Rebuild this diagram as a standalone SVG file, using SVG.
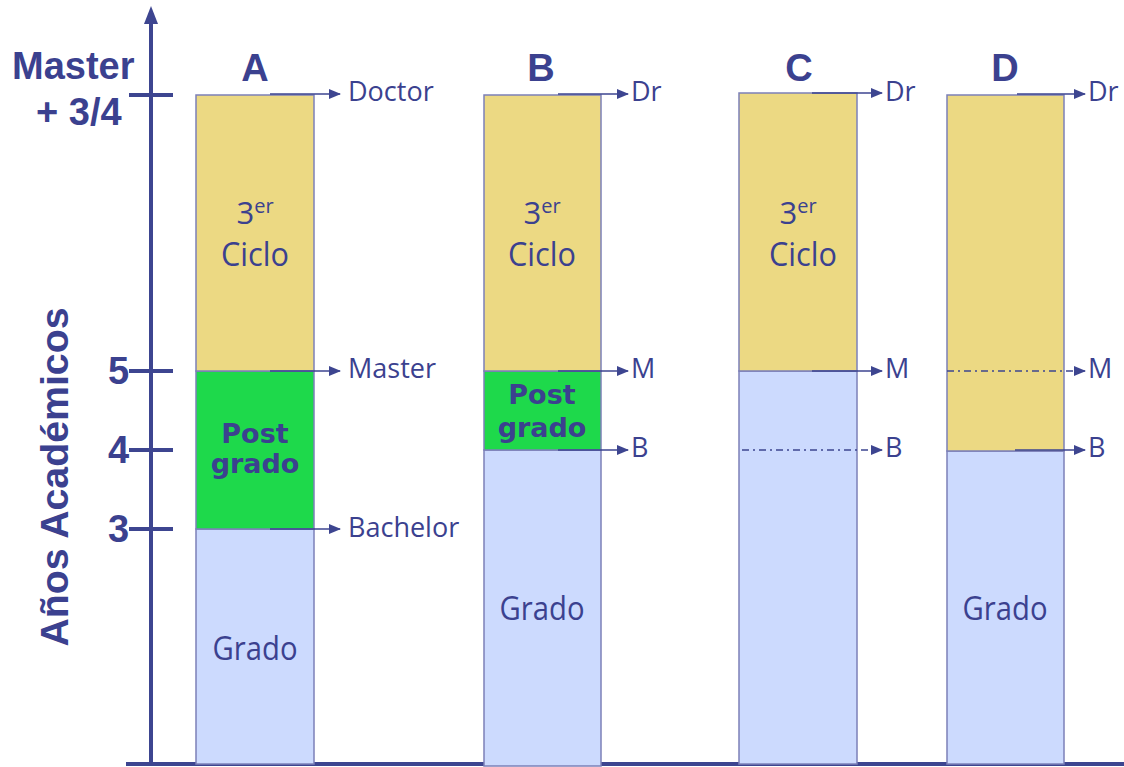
<svg xmlns="http://www.w3.org/2000/svg" width="1124" height="767" viewBox="0 0 1124 767">
<defs>
<marker id="ah" markerUnits="userSpaceOnUse" markerWidth="12" markerHeight="10" refX="11" refY="5" orient="auto">
<path d="M0,0 L12,5 L0,10 z" fill="#3d4590"/>
</marker>
<style>
.y{fill:#ecd983;stroke:#7c80b8;stroke-width:1.5}
.g{fill:#1ed94b;stroke:#7c80b8;stroke-width:1.5}
.b{fill:#ccdafe;stroke:#7c80b8;stroke-width:1.5}
.ax{stroke:#3d4590;stroke-width:4;fill:none}
.ar{stroke:#3d4590;stroke-width:1.6;fill:none;marker-end:url(#ah)}
.da{stroke-dasharray:7 4 2 4}
.lbl{font-family:"Open Sans",sans-serif;font-size:27px;fill:#3b418f}
.in{font-family:"Open Sans",sans-serif;font-size:33px;fill:#3b418f;text-anchor:middle}
.th{font-family:"Open Sans",sans-serif;font-size:31px;fill:#3b418f;text-anchor:middle}
.sup{font-size:20px}
.pg{font-family:"DejaVu Sans",sans-serif;font-weight:bold;font-size:27px;fill:#3b418f;text-anchor:middle}
.bd{font-family:"Liberation Sans",Arial,sans-serif;font-weight:bold;font-size:38px;fill:#3b418f}
.col{font-family:"Liberation Sans",Arial,sans-serif;font-weight:bold;font-size:38px;fill:#3b418f;text-anchor:middle}
</style>
</defs>
<rect width="1124" height="767" fill="#ffffff"/>

<g id="axis">
<line class="ax" x1="151" y1="766" x2="151" y2="20"/>
<polygon points="151,6 144,24 158,24" fill="#3d4590"/>
<line class="ax" x1="126" y1="764" x2="1124" y2="764"/>
<line class="ax" x1="129" y1="95" x2="173" y2="95"/>
<line class="ax" x1="129" y1="371" x2="173" y2="371"/>
<line class="ax" x1="129" y1="450" x2="173" y2="450"/>
<line class="ax" x1="129" y1="529" x2="173" y2="529"/>
<text class="bd" x="12" y="79">Master</text>
<text class="bd" x="36" y="125">+ 3/4</text>
<text class="bd" x="108" y="384">5</text>
<text class="bd" x="108" y="463">4</text>
<text class="bd" x="108" y="542">3</text>
<text transform="translate(68,477) rotate(-90)" font-family="Liberation Sans, Arial, sans-serif" font-weight="bold" font-size="39" fill="#3b418f" text-anchor="middle" textLength="339" lengthAdjust="spacingAndGlyphs">Años Académicos</text>
</g>

<g id="colA">
<rect class="b" x="196" y="529" width="118" height="235"/>
<rect class="g" x="196" y="371" width="118" height="158"/>
<rect class="y" x="196" y="95" width="118" height="276"/>
<text class="col" x="255" y="81">A</text>
<text class="th" x="255" y="224">3<tspan class="sup" dy="-11">er</tspan></text>
<text class="in" x="255" y="266" textLength="68" lengthAdjust="spacingAndGlyphs">Ciclo</text>
<text class="pg" x="255" y="443">Post</text>
<text class="pg" x="255" y="473">grado</text>
<text class="in" x="255" y="660" textLength="85" lengthAdjust="spacingAndGlyphs">Grado</text>
</g>

<g id="colB">
<rect class="b" x="484" y="450" width="117" height="316"/>
<rect class="g" x="484" y="371" width="117" height="79"/>
<rect class="y" x="484" y="95" width="117" height="276"/>
<text class="col" x="541" y="81">B</text>
<text class="th" x="542" y="224">3<tspan class="sup" dy="-11">er</tspan></text>
<text class="in" x="542" y="266" textLength="68" lengthAdjust="spacingAndGlyphs">Ciclo</text>
<text class="pg" x="542" y="404">Post</text>
<text class="pg" x="542" y="437">grado</text>
<text class="in" x="542" y="620" textLength="85" lengthAdjust="spacingAndGlyphs">Grado</text>
</g>

<g id="colC">
<rect class="b" x="739" y="371" width="118" height="393"/>
<rect class="y" x="739" y="93" width="118" height="278"/>
<text class="col" x="799" y="81">C</text>
<text class="th" x="798" y="224">3<tspan class="sup" dy="-11">er</tspan></text>
<text class="in" x="803" y="266" textLength="68" lengthAdjust="spacingAndGlyphs">Ciclo</text>
</g>

<g id="colD">
<rect class="b" x="947" y="451" width="117" height="313"/>
<rect class="y" x="947" y="95" width="117" height="356"/>
<text class="col" x="1005" y="81">D</text>
<text class="in" x="1005" y="620" textLength="85" lengthAdjust="spacingAndGlyphs">Grado</text>
</g>

<g id="connectors">
<line class="ar" x1="270" y1="94" x2="340" y2="94"/>
<line class="ar" x1="270" y1="371" x2="340" y2="371"/>
<line class="ar" x1="270" y1="529" x2="340" y2="529"/>
<line class="ar" x1="558" y1="94" x2="628" y2="94"/>
<line class="ar" x1="558" y1="371" x2="628" y2="371"/>
<line class="ar" x1="558" y1="450" x2="628" y2="450"/>
<line class="ar" x1="812" y1="93" x2="882" y2="93"/>
<line class="ar" x1="812" y1="371" x2="882" y2="371"/>
<line class="ar da" x1="742" y1="450" x2="882" y2="450"/>
<line class="ar" x1="1017" y1="94" x2="1085" y2="94"/>
<line class="ar da" x1="947" y1="371" x2="1085" y2="371"/>
<line class="ar" x1="1015" y1="450" x2="1085" y2="450"/>
</g>

<g id="labels">
<text class="lbl" x="348" y="101">Doctor</text>
<text class="lbl" x="348" y="378">Master</text>
<text class="lbl" x="348" y="537">Bachelor</text>
<text class="lbl" x="631" y="101">Dr</text>
<text class="lbl" x="631" y="378">M</text>
<text class="lbl" x="631" y="457">B</text>
<text class="lbl" x="885" y="101">Dr</text>
<text class="lbl" x="885" y="378">M</text>
<text class="lbl" x="885" y="457">B</text>
<text class="lbl" x="1088" y="101">Dr</text>
<text class="lbl" x="1088" y="378">M</text>
<text class="lbl" x="1088" y="457">B</text>
</g>
</svg>
